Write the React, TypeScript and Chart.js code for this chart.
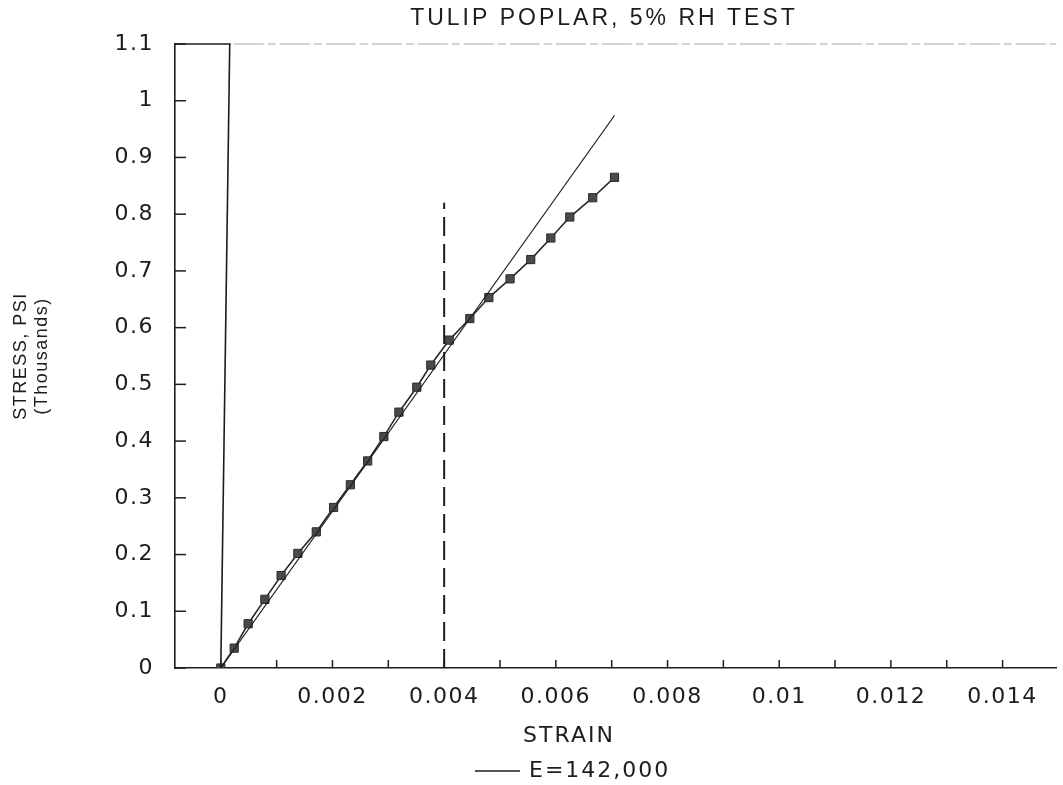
import React, { useEffect, useRef } from "react";
import { Chart, registerables } from "chart.js";

Chart.register(...registerables);

// ---- data ----
const strain = [
  0, 0.00024, 0.00049, 0.00079, 0.00108, 0.00138, 0.00171, 0.00202, 0.00232,
  0.00263, 0.00292, 0.00319, 0.00351, 0.00376, 0.00409, 0.00446, 0.0048,
  0.00518, 0.00555, 0.00591, 0.00625, 0.00666, 0.00705,
];
const stress = [
  0, 0.035, 0.078, 0.121, 0.163, 0.202, 0.24, 0.283, 0.323, 0.365, 0.408,
  0.451, 0.495, 0.534, 0.578, 0.616, 0.653, 0.686, 0.72, 0.758, 0.795, 0.829,
  0.865,
];
const modulusStrain = [0, 0.00705];
const modulusStress = [0, 0.974];
const limitStrain = [0.004, 0.004];
const limitStress = [0, 0.82];
const zeroStrain = [0, 0.00016];
const zeroStress = [0, 1.1];
const xLabelledTicks = [0, 0.002, 0.004, 0.006, 0.008, 0.01, 0.012, 0.014];
const yTickLabels = ["0", "0.1", "0.2", "0.3", "0.4", "0.5", "0.6", "0.7", "0.8", "0.9", "1", "1.1"];

const titleText = "TULIP POPLAR, 5% RH TEST";
const xTitle = "STRAIN";
const yTitle = ["STRESS, PSI", "(Thousands)"];
const legendText = "E=142,000";

const pts = (xs: number[], ys: number[]) => xs.map((x, i) => ({ x, y: ys[i] }));

const INK = "#1c1c1c";
const WIDE = '"DejaVu Sans", "Noto Sans", sans-serif';
const PLAIN = '"Liberation Sans", Arial, sans-serif';

const decorPlugin = {
  id: "decor",
  beforeDraw(chart: any) {
    (chart.ctx as any).letterSpacing = "1.5px";
  },
  afterDraw(chart: any) {
    const { ctx, chartArea, scales } = chart;
    const xs = scales.x;
    const ys = scales.y;
    ctx.save();
    // inward tick marks
    ctx.strokeStyle = INK;
    ctx.lineWidth = 1.5;
    xs.ticks.forEach((t: any) => {
      const px = xs.getPixelForValue(t.value);
      ctx.beginPath();
      ctx.moveTo(px, chartArea.bottom);
      ctx.lineTo(px, chartArea.bottom - 8);
      ctx.stroke();
    });
    ys.ticks.forEach((t: any) => {
      const py = ys.getPixelForValue(t.value);
      ctx.beginPath();
      ctx.moveTo(chartArea.left, py);
      ctx.lineTo(chartArea.left + 11, py);
      ctx.stroke();
    });
    // top frame: solid part up to the zero line, faint dashed beyond
    const zx = xs.getPixelForValue(zeroStrain[1]);
    ctx.beginPath();
    ctx.moveTo(chartArea.left, chartArea.top);
    ctx.lineTo(zx + 1, chartArea.top);
    ctx.stroke();
    ctx.strokeStyle = "#a8a8a8";
    ctx.lineWidth = 1;
    ctx.setLineDash([30, 4, 8, 4]);
    ctx.beginPath();
    ctx.moveTo(zx + 4, chartArea.top);
    ctx.lineTo(chartArea.right, chartArea.top);
    ctx.stroke();
    ctx.setLineDash([]);

    // texts
    ctx.fillStyle = INK;
    ctx.textBaseline = "middle";
    ctx.textAlign = "center";
    ctx.font = `23px ${PLAIN}`;
    (ctx as any).letterSpacing = "3px";
    ctx.fillText(titleText, 604, 19);
    ctx.font = `22px ${WIDE}`;
    (ctx as any).letterSpacing = "2px";
    ctx.fillText(xTitle, 569, 736);
    // legend
    ctx.strokeStyle = INK;
    ctx.lineWidth = 1.3;
    ctx.beginPath();
    ctx.moveTo(475, 771);
    ctx.lineTo(520, 771);
    ctx.stroke();
    ctx.textAlign = "left";
    ctx.fillText(legendText, 529, 771);
    (ctx as any).letterSpacing = "0px";
    ctx.restore();
    (ctx as any).letterSpacing = "0px";
  },
};

export default function App() {
  const ref = useRef<HTMLCanvasElement | null>(null);
  useEffect(() => {
    if (!ref.current) return;
    const chart = new Chart(ref.current, {
      type: "scatter",
      data: {
        datasets: [
          {
            label: "zero",
            data: pts(zeroStrain, zeroStress),
            showLine: true,
            borderColor: INK,
            borderWidth: 1.6,
            pointRadius: 0,
          },
          {
            label: "limit",
            data: pts(limitStrain, limitStress),
            showLine: true,
            borderColor: INK,
            borderWidth: 2,
            borderDash: [19, 8],
            pointRadius: 0,
          },
          {
            label: legendText,
            data: pts(modulusStrain, modulusStress),
            showLine: true,
            borderColor: INK,
            borderWidth: 1.2,
            pointRadius: 0,
          },
          {
            label: "test",
            data: pts(strain, stress),
            showLine: true,
            borderColor: "#2a2a2a",
            borderWidth: 1.6,
            pointStyle: "rect",
            pointRadius: 5.8,
            pointBackgroundColor: "#4a4a4a",
            pointBorderColor: "#2a2a2a",
            pointBorderWidth: 1,
          },
        ],
      },
      options: {
        animation: false,
        responsive: false,
        devicePixelRatio: 1,
        layout: { padding: { top: 44, left: 0, right: 0, bottom: 0 } },
        plugins: {
          legend: { display: false },
          title: { display: false },
          tooltip: { enabled: false },
        },
        scales: {
          x: {
            type: "linear",
            min: -0.00082,
            max: 0.01496,
            afterFit: (s: any) => {
              s.height = 117;
            },
            grid: { display: false },
            border: { display: true, color: INK, width: 1.6 },
            ticks: {
              stepSize: 0.001,
              includeBounds: false,
              autoSkip: false,
              maxRotation: 0,
              padding: 8,
              color: INK,
              font: { family: WIDE, size: 22 },
              callback: (v: any) => {
                const val = Number(v);
                const hit = xLabelledTicks.find((t) => Math.abs(t - val) < 1e-7);
                return hit === undefined ? "" : String(hit);
              },
            },
          },
          y: {
            type: "linear",
            min: 0,
            max: 1.1,
            afterFit: (s: any) => {
              s.width = 175;
            },
            grid: { display: false },
            border: { display: true, color: INK, width: 1.6 },
            title: {
              display: true,
              text: yTitle,
              color: INK,
              font: { family: PLAIN, size: 18 },
              padding: { top: 10, bottom: 0 },
            },
            ticks: {
              stepSize: 0.1,
              padding: 13,
              color: INK,
              font: { family: WIDE, size: 22 },
              callback: (_v: any, i: number) => yTickLabels[i] ?? "",
            },
          },
        },
      },
      plugins: [decorPlugin],
    });
    return () => chart.destroy();
  }, []);
  return (
    <div style={{ position: "absolute", left: 0, top: 0, width: 1063, height: 785, background: "#fff" }}>
      <canvas ref={ref} width={1063} height={785} />
    </div>
  );
}
